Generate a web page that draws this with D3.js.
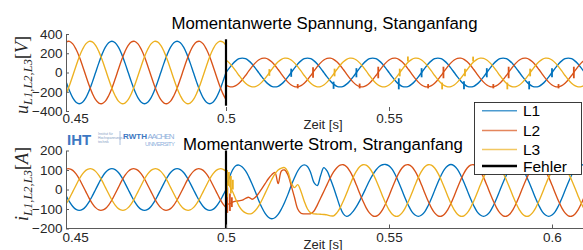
<!DOCTYPE html>
<html><head><meta charset="utf-8">
<script src="https://cdn.jsdelivr.net/npm/d3@7"></script>
<style>body{margin:0;background:#fff}svg{display:block}</style>
</head><body>
<svg id="c" width="583" height="250"></svg>
<script>
// ---------- data ----------
const seriesNames = ["L1", "L2", "L3"];
const faultName = "Fehler";
const faultTime = 500;            // ms
const xTicks = [0.45, 0.5, 0.55, 0.6];
const uTicks = [400, 200, 0, -200, -400];
const iTicks = [200, 100, 0, -100, -200];
const titleU = "Momentanwerte Spannung, Stanganfang";
const titleI = "Momentanwerte Strom, Stranganfang";
const xLabel = "Zeit [s]";

// sample times (ms): before fault and after fault
const tPre = d3.range(450, 501);
const tPost = d3.range(500, 611);

// voltage [V], before fault (450..500 ms)
const uL1pre = [0,-100,-191,-263,-309,-325,-309,-263,-191,-100,0,100,191,263,309,325,309,263,191,100,
  0,-100,-191,-263,-309,-325,-309,-263,-191,-100,0,100,191,263,309,325,309,263,191,100,
  0,-100,-191,-263,-309,-325,-309,-263,-191,-100,0];
const uL2pre = [281,318,323,297,241,163,68,-34,-132,-217,-281,-318,-323,-297,-241,-163,-68,34,132,217,
  281,318,323,297,241,163,68,-34,-132,-217,-281,-318,-323,-297,-241,-163,-68,34,132,217,
  281,318,323,297,241,163,68,-34,-132,-217,-281];
const uL3pre = [-281,-217,-132,-34,68,163,241,297,323,318,281,217,132,34,-68,-163,-241,-297,-323,-318,
  -281,-217,-132,-34,68,163,241,297,323,318,281,217,132,34,-68,-163,-241,-297,-323,-318,
  -281,-217,-132,-34,68,163,241,297,323,318,281];
// voltage [V], after fault (500..610 ms)
const uL1post = [0,46,88,121,143,150,143,121,88,46,
  0,-46,-88,-121,-143,-150,-143,-121,-88,-46,0,46,88,121,143,150,143,121,88,46,
  0,-46,-88,-121,-143,-150,-143,-121,-88,-46,0,46,88,121,143,150,143,121,88,46,
  0,-46,-88,-121,-143,-150,-143,-121,-88,-46,0,46,88,121,143,150,143,121,88,46,
  0,-46,-88,-121,-143,-150,-143,-121,-88,-46,0,46,88,121,143,150,143,121,88,46,
  0,-46,-88,-121,-143,-150,-143,-121,-88,-46,0,46,88,121,143,150,143,121,88,46,0];
const uL2post = [-130,-147,-149,-137,-111,-75,-31,16,61,100,
  130,147,149,137,111,75,31,-16,-61,-100,-130,-147,-149,-137,-111,-75,-31,16,61,100,
  130,147,149,137,111,75,31,-16,-61,-100,-130,-147,-149,-137,-111,-75,-31,16,61,100,
  130,147,149,137,111,75,31,-16,-61,-100,-130,-147,-149,-137,-111,-75,-31,16,61,100,
  130,147,149,137,111,75,31,-16,-61,-100,-130,-147,-149,-137,-111,-75,-31,16,61,100,
  130,147,149,137,111,75,31,-16,-61,-100,-130,-147,-149,-137,-111,-75,-31,16,61,100,130];
const uL3post = [130,100,61,16,-31,-75,-111,-137,-149,-147,
  -130,-100,-61,-16,31,75,111,137,149,147,130,100,61,16,-31,-75,-111,-137,-149,-147,
  -130,-100,-61,-16,31,75,111,137,149,147,130,100,61,16,-31,-75,-111,-137,-149,-147,
  -130,-100,-61,-16,31,75,111,137,149,147,130,100,61,16,-31,-75,-111,-137,-149,-147,
  -130,-100,-61,-16,31,75,111,137,149,147,130,100,61,16,-31,-75,-111,-137,-149,-147,
  -130,-100,-61,-16,31,75,111,137,149,147,130,100,61,16,-31,-75,-111,-137,-149,-147,-130];
// voltage spikes after fault: time [ms], low, high
const uSpikeL1 = [[520,-45,40],[540,-50,45],[560,-50,45],[580,-50,45],[600,-50,45],
  [533,-170,-95],[553,-175,-60],[573,-175,-90],[593,-175,-90]];
const uSpikeL2 = [[526.7,-55,55],[546.7,-60,60],[566.7,-60,60],[586.7,-60,60],[606.7,-60,60],
  [522,-165,-120],[541,-165,-115],[562,-165,-120],[582,-165,-120],[602,-165,-120]];
const uSpikeL3 = [[513.3,-35,35],[533.3,-40,40],[553.3,-40,40],[573.3,-40,40],[593.3,-40,40],
  [555.8,115,165],[575.8,115,165],[566.3,-175,-105],[586.3,-175,-105]];

// current [A], before fault
const iL1pre = [0,-33,-63,-87,-102,-107,-102,-87,-63,-33,0,33,63,87,102,107,102,87,63,33,
  0,-33,-63,-87,-102,-107,-102,-87,-63,-33,0,33,63,87,102,107,102,87,63,33,
  0,-33,-63,-87,-102,-107,-102,-87,-63,-33,0];
const iL2pre = [93,105,106,98,80,54,22,-11,-44,-72,-93,-105,-106,-98,-80,-54,-22,11,44,72,
  93,105,106,98,80,54,22,-11,-44,-72,-93,-105,-106,-98,-80,-54,-22,11,44,72,
  93,105,106,98,80,54,22,-11,-44,-72,-93];
const iL3pre = [-93,-72,-44,-11,22,54,80,98,106,105,93,72,44,11,-22,-54,-80,-98,-106,-105,
  -93,-72,-44,-11,22,54,80,98,106,105,93,72,44,11,-22,-54,-80,-98,-106,-105,
  -93,-72,-44,-11,22,54,80,98,106,105,93];
// current [A], after fault
const iL1post = [10,60,100,122,125,115,95,65,28,-12,-55,-92,-122,-142,-150,-145,-128,-100,-65,-25,
  20,60,95,118,126,118,85,35,20,70,112,95,55,10,-40,-90,-125,-138,-130,-112,
  -88,-58,-25,10,45,75,100,118,127,128,
  121,103,73,36,-5,-46,-83,-113,-131,-138,-131,-113,-83,-46,-5,36,73,103,121,128,
  121,103,73,36,-5,-46,-83,-113,-131,-138,-131,-113,-83,-46,-5,36,73,103,121,128,
  121,103,73,36,-5,-46,-83,-113,-131,-138,-131,-113,-83,-46,-5,36,73,103,121,128,121];
const iL2post = [-70,-75,-65,-60,-58,-55,-45,-40,-50,-40,-20,5,30,55,75,88,30,95,100,75,
  20,-40,-100,-122,-125,-125,-124,-110,-80,-45,-10,25,60,90,112,125,
  127,117,94,62,23,-19,-59,-94,-120,-135,-137,-127,-104,-72,
  -33,9,49,84,110,125,127,117,94,62,23,-19,-59,-94,-120,-135,-137,-127,-104,-72,
  -33,9,49,84,110,125,127,117,94,62,23,-19,-59,-94,-120,-135,-137,-127,-104,-72,
  -33,9,49,84,110,125,127,117,94,62,23,-19,-59,-94,-120,-135,-137,-127,-104,-72,-33];
const iL3post = [40,20,-10,-50,-85,-108,-120,-125,-122,-108,-85,-55,-20,15,50,80,100,110,112,90,
  35,10,25,-10,-60,-100,-120,-125,-126,-127,-128,-130,-135,
  -135,-120,-94,-59,-19,23,62,94,117,127,125,110,84,49,9,-33,-72,
  -104,-127,-137,-135,-120,-94,-59,-19,23,62,94,117,127,125,110,84,49,9,-33,-72,
  -104,-127,-137,-135,-120,-94,-59,-19,23,62,94,117,127,125,110,84,49,9,-33,-72,
  -104,-127,-137,-135,-120,-94,-59,-19,23,62,94,117,127,125,110,84,49,9,-33,-72,-104];
const iSpikeL2 = [[500.4,-120,10],[501.2,-110,-20],[501.8,-90,-40]];
const iSpikeL3 = [[500.3,-40,100],[500.9,20,90],[501.5,-20,70],[502.1,0,50]];
// fault marker extent
const uFaultRange = [-345, 345];
const iFaultRange = [-200, 200];

// ---------- drawing ----------
const colors = ["#0072BD", "#D95319", "#EDB120"];
const svg = d3.select("#c");
const x = d3.scaleLinear().domain([450, 610]).range([63, 63 + 160 * 3.26]);
const xs = d3.scaleLinear().domain([0.45, 0.61]).range(x.range());
const yU = d3.scaleLinear().domain([-400, 400]).range([111, 34]);
const yI = d3.scaleLinear().domain([-200, 200]).range([228.5, 150.5]);
const plotL = 66, plotR = 583;
const axisColor = "#5a5a5a", textColor = "#262626";
const sans = "'Liberation Sans', Arial, sans-serif";

svg.append("defs").append("clipPath").attr("id", "clip")
  .append("rect").attr("x", plotL).attr("y", 0).attr("width", plotR - plotL).attr("height", 250);

function drawPanel(y, pre, post, spikes, faultRange, yTicks, axisY, showBase, labelPad) {
  const g = svg.append("g").attr("clip-path", "url(#clip)");
  const line = d3.line().x(d => x(d[0])).y(d => y(d[1])).curve(d3.curveCatmullRom);
  for (let i = 0; i < 3; i++) {
    g.append("path").attr("d", line(tPre.map((t, j) => [t, pre[i][j]])))
      .attr("fill", "none").attr("stroke", colors[i]).attr("stroke-width", 1.35);
    g.append("path").attr("d", line(tPost.map((t, j) => [t, post[i][j]])))
      .attr("fill", "none").attr("stroke", colors[i]).attr("stroke-width", 1.35);
    g.selectAll(null).data(spikes[i]).enter().append("line")
      .attr("x1", d => x(d[0])).attr("x2", d => x(d[0]))
      .attr("y1", d => y(d[1])).attr("y2", d => y(d[2]))
      .attr("stroke", colors[i]).attr("stroke-width", 1.8);
  }
  g.append("line").attr("x1", x(faultTime)).attr("x2", x(faultTime))
    .attr("y1", y(faultRange[0])).attr("y2", y(faultRange[1]))
    .attr("stroke", "#000").attr("stroke-width", 2.2);

  const ya = svg.append("g").attr("transform", `translate(${plotL},0)`)
    .call(d3.axisLeft(y).tickValues(yTicks).tickSizeInner(-3).tickSizeOuter(0).tickPadding(3.5));
  ya.select(".domain").attr("stroke", axisColor);
  ya.selectAll(".tick line").attr("stroke", axisColor);
  ya.selectAll("text").attr("fill", textColor).attr("font-family", sans).attr("font-size", 13.5);
  const xa = svg.append("g").attr("transform", `translate(0,${axisY})`)
    .call(d3.axisBottom(xs).tickValues(xTicks).tickFormat(d => String(d))
      .tickSizeInner(-4).tickSizeOuter(0).tickPadding(labelPad));
  xa.select(".domain").remove();
  if (showBase) xa.append("line").attr("x1", plotL).attr("x2", plotR).attr("y1", 0).attr("y2", 0)
    .attr("stroke", axisColor);
  xa.selectAll(".tick line").attr("stroke", axisColor);
  xa.selectAll(".tick").filter(d => d === 0.45).select("line").remove();
  xa.selectAll("text").attr("fill", textColor).attr("font-family", sans).attr("font-size", 13.5);
  xa.selectAll(".tick").filter(d => d === 0.45).select("text").attr("text-anchor", "start").attr("x", -1);
}

drawPanel(yU, [uL1pre, uL2pre, uL3pre], [uL1post, uL2post, uL3post],
  [uSpikeL1, uSpikeL2, uSpikeL3], uFaultRange, uTicks, 111, false, 2.5);
drawPanel(yI, [iL1pre, iL2pre, iL3pre], [iL1post, iL2post, iL3post],
  [[], iSpikeL2, iSpikeL3], iFaultRange, iTicks, 228.5, true, 4);

svg.append("text").attr("x", 324.5).attr("y", 28.5).attr("text-anchor", "middle")
  .attr("font-family", sans).attr("font-size", 16.8).attr("fill", "#000").text(titleU);
svg.append("text").attr("x", 323).attr("y", 150).attr("text-anchor", "middle")
  .attr("font-family", sans).attr("font-size", 16.8).attr("fill", "#000").text(titleI);
svg.append("text").attr("x", 323).attr("y", 129).attr("text-anchor", "middle")
  .attr("font-family", sans).attr("font-size", 13).attr("fill", textColor).text(xLabel);
svg.append("text").attr("x", 323).attr("y", 249).attr("text-anchor", "middle")
  .attr("font-family", sans).attr("font-size", 13).attr("fill", textColor).text(xLabel);

function yLabel(cx, cy, sym, unit) {
  const t = svg.append("text").attr("transform", `translate(${cx},${cy}) rotate(-90)`)
    .attr("text-anchor", "middle").attr("font-family", "'Liberation Serif', 'Times New Roman', serif")
    .attr("font-size", 18).attr("fill", textColor);
  t.append("tspan").attr("font-style", "italic").text(sym);
  t.append("tspan").attr("font-style", "italic").attr("font-size", 12.5).attr("dy", 4).text("L1,L2,L3");
  t.append("tspan").attr("dy", -4).text("[");
  t.append("tspan").attr("font-style", "italic").text(unit);
  t.append("tspan").text("]");
}
yLabel(28, 75, "u", "V");
yLabel(28, 184, "i", "A");

const lg = svg.append("g");
lg.append("rect").attr("x", 474.5).attr("y", 102.5).attr("width", 107).attr("height", 72)
  .attr("fill", "#fff").attr("stroke", "#262626").attr("stroke-width", 0.9);
const legendItems = seriesNames.map((n, i) => ({ name: n, color: colors[i], w: 1.4 }))
  .concat([{ name: faultName, color: "#000", w: 2.6 }]);
const legendY = [110.7, 130.5, 149.5, 166];
legendItems.forEach((d, i) => {
  lg.append("line").attr("x1", 482).attr("x2", 517).attr("y1", legendY[i]).attr("y2", legendY[i])
    .attr("stroke", d.color).attr("stroke-width", d.w).attr("opacity", i < 3 ? 0.7 : 1);
  lg.append("text").attr("x", 523).attr("y", legendY[i] + 5.5).attr("font-family", sans)
    .attr("font-size", 15.5).attr("fill", "#000").text(d.name);
});

const logo = svg.append("g");
logo.append("text").attr("x", 67).attr("y", 145).attr("font-family", sans).attr("font-weight", "bold")
  .attr("font-size", 15).attr("fill", "#3d78c2").text("IHT");
["Institut für", "Hochspannungs-", "technik"].forEach((s, i) =>
  logo.append("text").attr("x", 98).attr("y", 135 + i * 3.8).attr("font-family", sans)
    .attr("font-size", 3.4).attr("fill", "#7f9cc4").text(s));
logo.append("line").attr("x1", 120).attr("x2", 120).attr("y1", 131).attr("y2", 145)
  .attr("stroke", "#9bb3d6").attr("stroke-width", 0.8);
logo.append("text").attr("x", 123).attr("y", 139).attr("font-family", sans).attr("font-weight", "bold")
  .attr("font-size", 8).attr("fill", "#3d78c2").attr("textLength", 24).text("RWTH");
logo.append("text").attr("x", 147.5).attr("y", 139).attr("font-family", sans)
  .attr("font-size", 8).attr("fill", "#8fb0dc").attr("textLength", 27).text("AACHEN");
logo.append("text").attr("x", 145).attr("y", 145.5).attr("font-family", sans)
  .attr("font-size", 6).attr("fill", "#8fb0dc").attr("textLength", 30).text("UNIVERSITY");
</script>
</body></html>
